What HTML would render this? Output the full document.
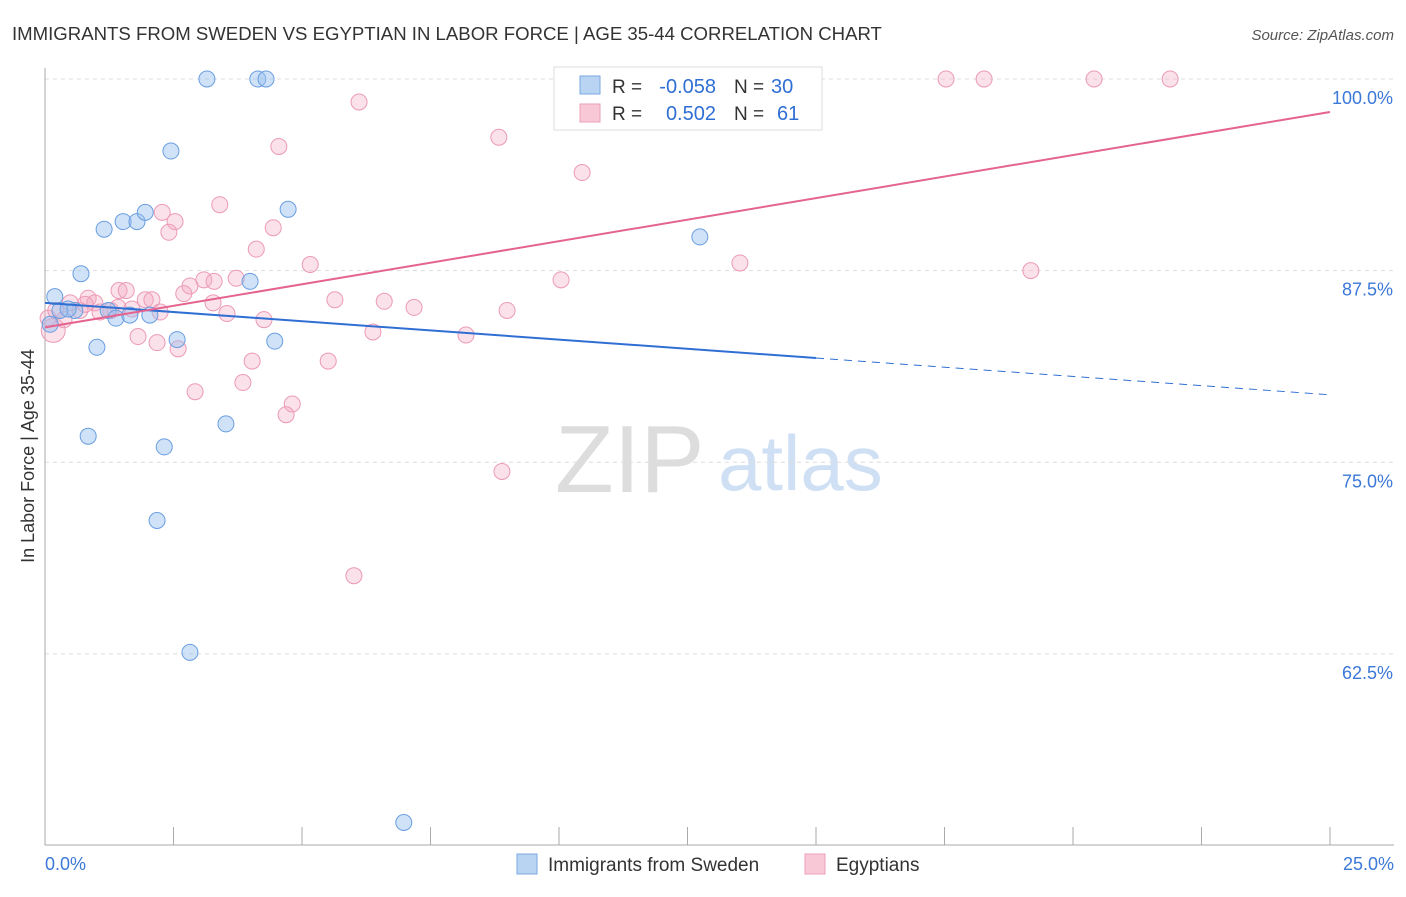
<!DOCTYPE html>
<html><head><meta charset="utf-8"><style>
body{margin:0;background:#fff;font-family:"Liberation Sans",sans-serif}
svg text{font-family:"Liberation Sans",sans-serif}
</style></head><body>
<svg id="c" width="1406" height="892">
<text x="12" y="40" font-size="18.6" fill="#333">IMMIGRANTS FROM SWEDEN VS EGYPTIAN IN LABOR FORCE | AGE 35-44 CORRELATION CHART</text>
<text x="1394" y="40" font-size="15" fill="#555" font-style="italic" text-anchor="end">Source: ZipAtlas.com</text>
<text x="555" y="492" font-size="96" fill="#ddd" font-family="Liberation Serif">ZIP</text>
<text x="718" y="490" font-size="78" fill="#cfe0f4">atlas</text>
<text transform="translate(34,456) rotate(-90)" font-size="18" fill="#333" text-anchor="middle">In Labor Force | Age 35-44</text>
<g id="grid"></g><g id="marks"></g>
<g>
<rect x="554" y="67" width="268" height="63" fill="#fff" stroke="#ddd"/>
<rect x="580" y="76" width="20" height="18" fill="#b9d3f3" stroke="#7aa8e0"/>
<text x="612" y="93" font-size="19" fill="#333">R =</text>
<text x="716" y="93" font-size="20" fill="#2f6fd4" text-anchor="end">-0.058</text>
<text x="734" y="93" font-size="19" fill="#333">N =</text>
<text x="771" y="93" font-size="20" fill="#2f6fd4">30</text>
<rect x="580" y="104" width="20" height="18" fill="#f8c8d6" stroke="#eba0b8"/>
<text x="612" y="120" font-size="19" fill="#333">R =</text>
<text x="716" y="120" font-size="20" fill="#2f6fd4" text-anchor="end">0.502</text>
<text x="734" y="120" font-size="19" fill="#333">N =</text>
<text x="777" y="120" font-size="20" fill="#2f6fd4">61</text>
</g>
<g>
<rect x="517" y="854" width="20" height="20" fill="#b9d3f3" stroke="#7aa8e0"/>
<text x="548" y="871" font-size="19" fill="#333">Immigrants from Sweden</text>
<rect x="805" y="854" width="20" height="20" fill="#f8c8d6" stroke="#eba0b8"/>
<text x="836" y="871" font-size="19" fill="#333">Egyptians</text>
</g>
</svg>
<script>
const yTicks=[100,87.5,75,62.5];
const yTickLabels=["100.0%","87.5%","75.0%","62.5%"];
const xTicks=[0,2.5,5,7.5,10,12.5,15,17.5,20,22.5,25];
const blueX=[3.15,4.14,4.30,2.45,1.15,1.52,1.79,1.95,4.73,0.70,3.99,0.19,0.29,0.58,0.45,1.23,1.38,1.65,2.04,2.57,4.47,1.01,12.74,0.84,2.32,3.52,2.18,2.82,6.98,0.10];
const blueY=[100,100,100,95.3,90.2,90.7,90.7,91.3,91.5,87.3,86.8,85.8,84.9,84.9,85.0,84.9,84.4,84.6,84.6,83.0,82.9,82.5,89.7,76.7,76.0,77.5,71.2,62.6,51.5,84.0];
const pinkX=[17.53,18.27,20.41,21.89,6.11,8.83,4.55,10.45,3.40,2.28,2.53,2.41,4.44,4.11,5.16,13.52,19.18,10.04,3.72,3.09,2.82,2.70,1.44,1.58,1.95,2.08,0.84,0.49,0.97,5.64,6.60,7.18,3.27,8.99,3.54,4.26,1.69,1.28,2.24,6.38,8.19,1.81,2.18,2.59,0.16,0.06,0.21,4.03,5.51,3.85,2.92,4.81,4.69,8.89,6.01,0.68,1.07,0.37,3.29,1.42,0.78];
const pinkY=[100,100,100,100,98.5,96.2,95.6,93.9,91.8,91.3,90.7,90.0,90.3,88.9,87.9,88.0,87.5,86.9,87.0,86.9,86.5,86.0,86.2,86.2,85.6,85.6,85.7,85.4,85.4,85.6,85.5,85.1,85.4,84.9,84.7,84.3,85.0,84.9,84.8,83.5,83.3,83.2,82.8,82.4,83.6,84.4,84.9,81.6,81.6,80.2,79.6,78.8,78.1,74.4,67.6,84.9,84.8,84.3,86.8,85.1,85.3];
const blueTrend=[85.4,81.8,79.4]; const blueTrendX=[0,15,25];
const pinkTrend=[83.8,97.85]; const pinkTrendX=[0,25];
const NS="http://www.w3.org/2000/svg";
const X=v=>45+v/25*1285, Y=v=>79+(100-v)*15.33;
const grid=document.getElementById('grid'), marks=document.getElementById('marks');
function mk(tag,at,parent){const e=document.createElementNS(NS,tag);for(const k in at)e.setAttribute(k,at[k]);parent.appendChild(e);return e;}
yTicks.forEach((t,i)=>{
 const l=mk('line',{x1:45,x2:1394,y1:Y(t),y2:Y(t),stroke:'#ddd','stroke-dasharray':'4,4'},grid);
 
 
 const tx=mk('text',{x:1393,y:Y(t)+25,'font-size':18,fill:'#3b78d8','text-anchor':'end'},grid);tx.textContent=yTickLabels[i];
 
 
});
const ax=mk('line',{x1:45,x2:45,y1:68,y2:845,stroke:'#aaa'},grid);


const bx=mk('line',{x1:45,x2:1394,y1:845,y2:845,stroke:'#aaa'},grid);


xTicks.forEach(t=>{const l=mk('line',{x1:X(t),x2:X(t),y1:827,y2:845,stroke:'#aaa'},grid);
 
 });
let t1=mk('text',{x:45,y:870,'font-size':18,fill:'#3b78d8'},grid);t1.textContent='0.0%';


let t2=mk('text',{x:1394,y:870,'font-size':18,fill:'#3b78d8','text-anchor':'end'},grid);t2.textContent='25.0%';


pinkX.forEach((x,i)=>{const c=mk('circle',{cx:X(x),cy:Y(pinkY[i]),r:i==44?12:8,fill:'rgba(244,170,195,0.35)',stroke:'#ec9ab6','stroke-width':1},marks);
 
 });
blueX.forEach((x,i)=>{const c=mk('circle',{cx:X(x),cy:Y(blueY[i]),r:8,fill:'rgba(150,190,240,0.45)',stroke:'#6a9ee0','stroke-width':1},marks);
 
 });
const bl=mk('line',{x1:X(blueTrendX[0]),y1:Y(blueTrend[0]),x2:X(blueTrendX[1]),y2:Y(blueTrend[1]),stroke:'#2f6fd4','stroke-width':2},marks);


const bd=mk('line',{x1:X(blueTrendX[1]),y1:Y(blueTrend[1]),x2:X(blueTrendX[2]),y2:Y(blueTrend[2]),stroke:'#2f6fd4','stroke-width':1,'stroke-dasharray':'8,6'},marks);


const pl=mk('line',{x1:X(pinkTrendX[0]),y1:Y(pinkTrend[0]),x2:X(pinkTrendX[1]),y2:Y(pinkTrend[1]),stroke:'#e4638f','stroke-width':2},marks);


</script>
</body></html>
